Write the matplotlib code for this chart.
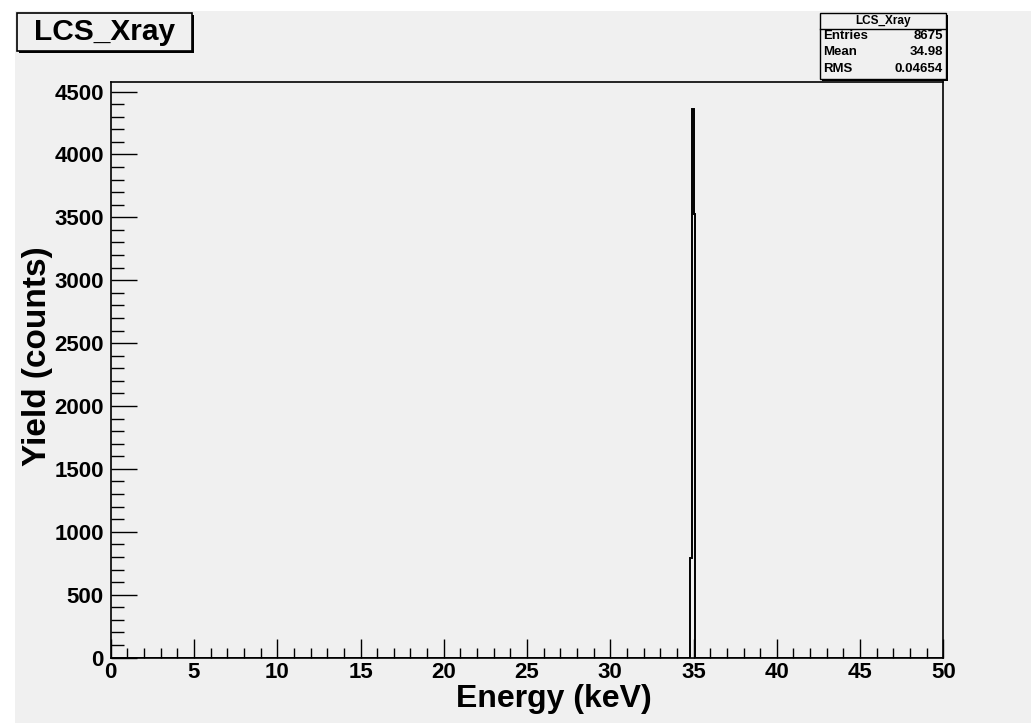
import matplotlib.pyplot as plt
import numpy as np
from matplotlib.patches import Rectangle
from matplotlib.ticker import MultipleLocator

plt.rcParams['font.family'] = ['Liberation Sans', 'DejaVu Sans']
plt.rcParams['font.weight'] = 'bold'

# Histogram data (0.1 keV bins from 0 to 50 keV)
bin_width = 0.1
x_min, x_max = 0, 50
peak_bin_starts = [34.8, 34.9, 35.0]
peak_counts = [790, 4360, 3525]

# Stats box values
hist_name = 'LCS_Xray'
stat_names = ['Entries', 'Mean', 'RMS']
stat_values = ['8675', '34.98', '0.04654']

edges = np.round(np.arange(x_min, x_max + bin_width / 2, bin_width), 3)
counts = np.zeros(len(edges) - 1)
for start, c in zip(peak_bin_starts, peak_counts):
    counts[int(round((start - x_min) / bin_width))] = c

bg = '#f0f0f0'
fig = plt.figure(figsize=(10.31, 7.23), dpi=100, facecolor='white')
# gray canvas (screenshot has a thin white margin top-left)
fig.patches.append(Rectangle((15 / 1031, 0), 1, 1 - 11 / 723, transform=fig.transFigure,
                             facecolor=bg, edgecolor='none', zorder=-10))

ax = fig.add_axes([0.1074, 0.0905, 0.8076, 0.7965])
ax.set_facecolor(bg)
ax.stairs(counts, edges, color='black', linewidth=1.4)

ax.set_xlim(x_min, x_max)
ax.set_ylim(0, max(peak_counts) * 1.05)
ax.xaxis.set_major_locator(MultipleLocator(5))
ax.xaxis.set_minor_locator(MultipleLocator(1))
ax.yaxis.set_major_locator(MultipleLocator(500))
ax.yaxis.set_minor_locator(MultipleLocator(100))
ax.tick_params(axis='x', which='major', direction='in', length=13.7, width=1, pad=3, labelsize=16)
ax.tick_params(axis='x', which='minor', direction='in', length=7.2, width=1)
ax.tick_params(axis='y', which='major', direction='in', length=18.7, width=1, pad=5, labelsize=16)
ax.tick_params(axis='y', which='minor', direction='in', length=9.4, width=1)
for lab in ax.get_xticklabels() + ax.get_yticklabels():
    lab.set_fontweight('bold')
for s in ax.spines.values():
    s.set_linewidth(1.2)

ax.set_xlabel('Energy (keV)', fontsize=23, fontweight='bold')
ax.xaxis.set_label_coords(0.532, -0.085)
ax.xaxis.label.set_va('baseline')
ax.set_ylabel('Yield (counts)', fontsize=24, fontweight='bold')
ax.yaxis.set_label_coords(-0.0885, 0.524)
ax.yaxis.label.set_va('center')

# Title box
def px_box(x0, y0, x1, y1):
    # pixel coords from top-left -> figure fraction rect
    return (x0 / 1031, 1 - y1 / 723), (x1 - x0) / 1031, (y1 - y0) / 723

(xy, w, h) = px_box(19, 15, 194, 53)
fig.patches.append(Rectangle(xy, w, h, transform=fig.transFigure, facecolor='black', edgecolor='none'))
(xy, w, h) = px_box(17, 13, 192, 51)
fig.patches.append(Rectangle(xy, w, h, transform=fig.transFigure, facecolor=bg, edgecolor='black', linewidth=1.2))
fig.text((17 + 192) / 2 / 1031, 1 - 32 / 723, hist_name, ha='center', va='center',
         fontsize=21.5, fontweight='bold')

# Stats box
(xy, w, h) = px_box(822, 15, 948, 81)
fig.patches.append(Rectangle(xy, w, h, transform=fig.transFigure, facecolor='black', edgecolor='none'))
(xy, w, h) = px_box(820, 13, 946, 79)
fig.patches.append(Rectangle(xy, w, h, transform=fig.transFigure, facecolor=bg, edgecolor='black', linewidth=1.0))
fig.add_artist(plt.Line2D([820 / 1031, 946 / 1031], [1 - 29 / 723, 1 - 29 / 723],
                          transform=fig.transFigure, color='black', linewidth=1.0))
fig.text(883 / 1031, 1 - 21 / 723, hist_name, ha='center', va='center', fontsize=8.5, fontweight='bold')
row_y = [36, 52, 69]
for name, val, y in zip(stat_names, stat_values, row_y):
    fig.text(823 / 1031, 1 - y / 723, name, ha='left', va='center', fontsize=9.5, fontweight='bold')
    fig.text(943 / 1031, 1 - y / 723, val, ha='right', va='center', fontsize=9.5, fontweight='bold')

fig.savefig('out.png', dpi=100, facecolor=fig.get_facecolor())
